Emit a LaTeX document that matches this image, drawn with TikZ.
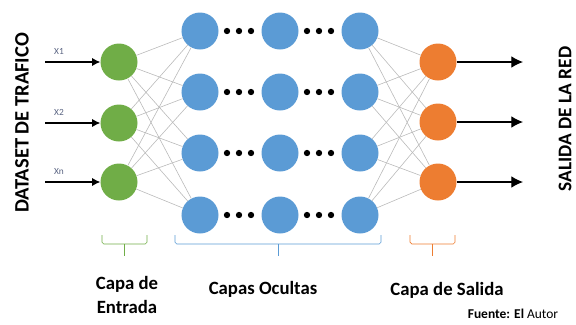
\documentclass[tikz,border=0pt]{standalone}
\usepackage{fontspec}
\setmainfont{Carlito}
\usepackage{xcolor}
\usepackage{tikz}
\usetikzlibrary{shapes,arrows.meta}
\definecolor{ingreen}{RGB}{112,173,71}
\definecolor{hidblue}{RGB}{91,155,213}
\definecolor{outorange}{RGB}{237,125,49}
\definecolor{xlabel}{RGB}{90,100,130}
\tikzstyle{neuron} = [circle, inner sep=0pt, minimum size=1.11cm]
\tikzstyle{inneuron} = [neuron, fill=ingreen]
\tikzstyle{hidneuron} = [neuron, fill=hidblue]
\tikzstyle{outneuron} = [neuron, fill=outorange]
\tikzstyle{arrow} = [draw, -{Latex[length=7pt,width=7pt]}, line width=0.9pt]
\tikzstyle{outarrow} = [draw, -{Latex[length=10pt,width=10pt]}, line width=0.9pt]
\tikzstyle{line} = [draw, gray!55, line width=0.5pt]
\tikzstyle{dot} = [circle, fill=black, inner sep=0pt, minimum size=0.19cm]
\tikzstyle{xlab} = [font=\fontsize{8}{9}\selectfont, text=xlabel]
\tikzstyle{brace} = [draw, line width=0.6pt, rounded corners=1.5pt]
\tikzstyle{layerlabel} = [font=\fontsize{16}{20.5}\selectfont\bfseries, align=center]
\tikzstyle{sidelabel} = [font=\fontsize{17.5}{20}\selectfont\bfseries, rotate=90]

\begin{document}
\begin{tikzpicture}[x=0.03cm, y=-0.03cm]
			\useasboundingbox (0,0) rectangle (576,324);
			%
			\node [sidelabel] (dataset) at (22,123) {DATASET DE TRAFICO};
			\node [sidelabel, font=\fontsize{16.5}{20}\selectfont\bfseries] (salida) at (565,119) {SALIDA DE LA RED};

			% input layer
			\node [inneuron] (in1) at (119,62) {};
			\node [inneuron] (in2) at (119,123) {};
			\node [inneuron] (inn) at (119,182) {};

			% hidden layers
			\node [hidneuron] (h11) at (200,31) {};
			\node [hidneuron] (h12) at (200,92) {};
			\node [hidneuron] (h13) at (200,153) {};
			\node [hidneuron] (h14) at (200,215) {};
			\node [hidneuron] (h21) at (280,31) {};
			\node [hidneuron] (h22) at (280,92) {};
			\node [hidneuron] (h23) at (280,153) {};
			\node [hidneuron] (h24) at (280,215) {};
			\node [hidneuron] (h31) at (360,31) {};
			\node [hidneuron] (h32) at (360,92) {};
			\node [hidneuron] (h33) at (360,153) {};
			\node [hidneuron] (h34) at (360,215) {};

			% output layer
			\node [outneuron] (out1) at (438,62) {};
			\node [outneuron] (out2) at (438,122) {};
			\node [outneuron] (out3) at (438,182) {};

			% dots between hidden layers
			\foreach \y in {31,92,153,215} {
				\node [dot] at (227,\y) {};
				\node [dot] at (239,\y) {};
				\node [dot] at (251,\y) {};
				\node [dot] at (307,\y) {};
				\node [dot] at (319,\y) {};
				\node [dot] at (331,\y) {};
			}

			% Draw edges
			\path [line] (in1) -- (h11);
			\path [line] (in1) -- (h12);
			\path [line] (in1) -- (h13);
			\path [line] (in1) -- (h14);
			\path [line] (in2) -- (h11);
			\path [line] (in2) -- (h12);
			\path [line] (in2) -- (h13);
			\path [line] (in2) -- (h14);
			\path [line] (inn) -- (h11);
			\path [line] (inn) -- (h12);
			\path [line] (inn) -- (h13);
			\path [line] (inn) -- (h14);

			\path [line] (h31) -- (out1);
			\path [line] (h31) -- (out2);
			\path [line] (h31) -- (out3);
			\path [line] (h32) -- (out1);
			\path [line] (h32) -- (out2);
			\path [line] (h32) -- (out3);
			\path [line] (h33) -- (out1);
			\path [line] (h33) -- (out2);
			\path [line] (h33) -- (out3);
			\path [line] (h34) -- (out1);
			\path [line] (h34) -- (out2);
			\path [line] (h34) -- (out3);

			% inputs
			\coordinate (x1) at (45,62);
			\coordinate (x2) at (45,123);
			\coordinate (xn) at (45,182);
			\node [xlab] (lx1) at (59,51) {X1};
			\node [xlab] (lx2) at (59,112) {X2};
			\node [xlab] (lxn) at (59,171) {Xn};
			\path [arrow] (x1) -- (in1);
			\path [arrow] (x2) -- (in2);
			\path [arrow] (xn) -- (inn);

			% outputs
			\coordinate (y1) at (523,62);
			\coordinate (y2) at (523,122);
			\coordinate (y3) at (523,182);
			\path [outarrow] (out1) -- (y1);
			\path [outarrow] (out2) -- (y2);
			\path [outarrow] (out3) -- (y3);

			% braces
			\path [brace, ingreen] (102,235) -- (102,244) -- (147,244) -- (147,235);
			\path [brace, ingreen] (124.5,244) -- (124.5,256);
			\path [brace, hidblue] (175,235) -- (175,244) -- (381,244) -- (381,235);
			\path [brace, hidblue] (278,244) -- (278,256);
			\path [brace, outorange] (410,235) -- (410,244) -- (455,244) -- (455,235);
			\path [brace, outorange] (432.5,244) -- (432.5,256);

			% labels
			\node [layerlabel] (lin) at (127,295) {Capa de\\Entrada};
			\node [layerlabel] (lhid) at (263,289) {Capas Ocultas};
			\node [layerlabel] (lout) at (447,290) {Capa de Salida};
			\node [font=\fontsize{11.5}{14}\selectfont, inner sep=1pt] (fuente) at (513,314) {\textbf{Fuente: El} Autor};
%
	\end{tikzpicture}
\end{document}
